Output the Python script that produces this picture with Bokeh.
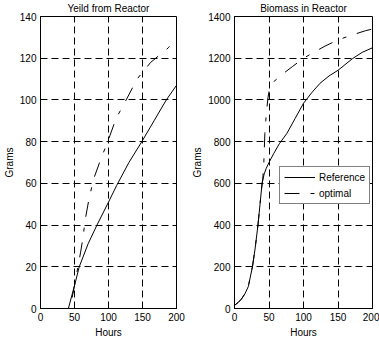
from bokeh.plotting import figure
from bokeh.layouts import row
from bokeh.models import Legend, LegendItem, FixedTicker
from bokeh.embed import file_html
from bokeh.resources import INLINE

# ---- data ----
yield_ref_hours = [0, 41, 50, 57, 70, 83, 100, 112, 130, 149, 167, 185, 200]
yield_ref_grams = [0, 0, 11, 20, 31, 40, 51, 59, 70, 80, 90, 100, 107]

yield_opt_hours = [0, 44, 47, 50, 55, 59, 62, 66, 71, 78, 88, 100, 111, 126, 142, 162, 188, 200]
yield_opt_grams = [0, 0, 6, 11, 20, 27, 33, 43, 52, 62, 71, 81, 91, 100, 110, 118, 125, 130]

bio_ref_hours = [0, 5, 10, 15, 20, 26, 30, 34, 37, 40, 43, 46, 50, 57, 65, 76, 88, 100, 112, 124, 137, 150, 171, 185, 200]
bio_ref_grams = [15, 28, 45, 70, 105, 200, 290, 400, 500, 600, 645, 672, 700, 744, 790, 840, 912, 984, 1035, 1080, 1115, 1142, 1198, 1228, 1250]

bio_opt_hours = [0, 5, 10, 15, 20, 26, 30, 34, 37, 40, 41, 42.5, 44, 46, 48.5, 50.5, 52, 57, 70, 84, 100, 117, 130, 150, 171, 190, 200]
bio_opt_grams = [15, 28, 45, 70, 105, 200, 290, 400, 500, 600, 620, 700, 840, 930, 1010, 1050, 1064, 1088, 1125, 1160, 1200, 1232, 1256, 1288, 1312, 1332, 1340]

titles = ["Yeild from Reactor", "Biomass in Reactor"]
x_label = "Hours"
y_label = "Grams"
x_ticks = [0, 50, 100, 150, 200]
yield_ticks = [0, 20, 40, 60, 80, 100, 120, 140]
bio_ticks = [0, 200, 400, 600, 800, 1000, 1200, 1400]
legend_labels = ["Reference", "optimal"]

FONT = "Liberation Sans"
FS = "10px"
DASH = "15 11 4 11"


def make_fig(title, ymax, yticks, width, left, right):
    p = figure(width=width, height=344, x_range=(0, 200), y_range=(0, ymax),
               output_backend="svg", toolbar_location=None, title=title,
               min_border_left=left, min_border_right=right,
               min_border_top=16, min_border_bottom=36)
    p.title.align = "center"
    p.title.vertical_align = "top"
    p.title.text_font = FONT
    p.title.text_font_size = FS
    p.title.text_font_style = "normal"
    p.title.text_color = "black"
    p.title.standoff = 2
    p.outline_line_color = "black"
    p.outline_line_alpha = 1
    p.background_fill_color = "white"
    p.border_fill_color = "white"
    for ax, ticks in ((p.xaxis, x_ticks), (p.yaxis, yticks)):
        ax.ticker = FixedTicker(ticks=ticks)
        ax.major_tick_in = 4
        ax.major_tick_out = 0
        ax.minor_tick_line_color = None
        ax.axis_line_color = "black"
        ax.major_tick_line_color = "black"
        ax.major_label_text_font = FONT
        ax.major_label_text_font_size = FS
        ax.major_label_text_color = "black"
        ax.axis_label_text_font = FONT
        ax.axis_label_text_font_size = FS
        ax.axis_label_text_font_style = "normal"
        ax.axis_label_text_color = "black"
    p.xaxis.axis_label = x_label
    p.yaxis.axis_label = y_label
    p.xaxis.major_label_standoff = 4
    p.xaxis.axis_label_standoff = 3
    p.yaxis.major_label_standoff = 4
    p.yaxis.axis_label_standoff = 2
    p.yaxis.major_label_orientation = "horizontal"
    for g in (p.xgrid, p.ygrid):
        g.grid_line_color = "black"
        g.grid_line_alpha = 1
        g.grid_line_width = 1
        g.grid_line_dash = "7 4"
    return p


p1 = make_fig(titles[0], 140, yield_ticks, 189, 36, 13)
p1.line(yield_ref_hours, yield_ref_grams, line_color="black", line_width=1)
p1.line(yield_opt_hours, yield_opt_grams, line_color="black", line_width=1, line_dash=DASH)

p2 = make_fig(titles[1], 1400, bio_ticks, 190, 43, 7)
r_ref = p2.line(bio_ref_hours, bio_ref_grams, line_color="black", line_width=1)
r_opt = p2.line(bio_opt_hours, bio_opt_grams, line_color="black", line_width=1, line_dash=DASH)

legend = Legend(items=[LegendItem(label=legend_labels[0], renderers=[r_ref]),
                       LegendItem(label=legend_labels[1], renderers=[r_opt])],
                location=(45, 104))
legend.label_text_font = FONT
legend.label_text_font_size = FS
legend.label_text_color = "black"
legend.border_line_color = "black"
legend.border_line_width = 1
legend.background_fill_color = "white"
legend.background_fill_alpha = 1
legend.padding = 4
legend.margin = 0
legend.spacing = 4
legend.glyph_width = 31
legend.glyph_height = 12
legend.label_height = 12
legend.label_standoff = 4
p2.add_layout(legend, "center")

layout = row(p1, p2, spacing=0)
open("out.html", "w").write(file_html(layout, INLINE))
